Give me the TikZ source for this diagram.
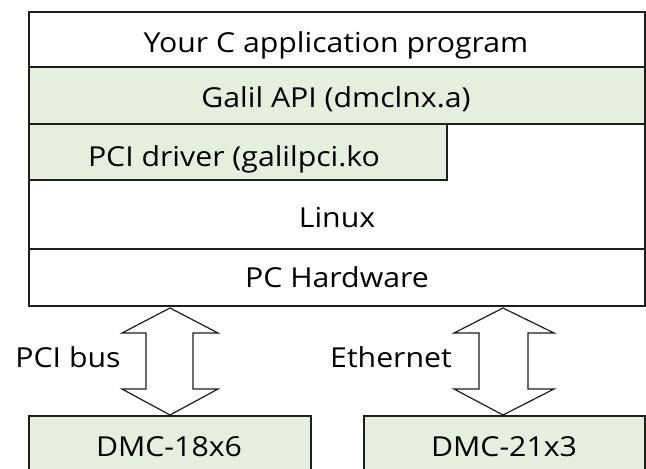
\documentclass[tikz,border=0pt]{standalone}
\usepackage{fontspec}
\setmainfont[FakeStretch=1.1]{Open Sans}
\definecolor{lgreen}{HTML}{E6EEDD}
\definecolor{edge}{HTML}{1E1E1E}
\begin{document}
\begin{tikzpicture}[x=1pt,y=-1pt,
  layer/.style={draw=edge,line width=1.6pt},
  lbl/.style={font=\fontsize{27.5}{30}\selectfont,inner sep=0pt,anchor=base},
  darrow/.style={draw=edge,line width=1.2pt,fill=white,line join=miter}]
\useasboundingbox (0,0) rectangle (646,469);
% rows
\draw[layer,fill=lgreen] (29,67) rectangle (645,124);
\draw[layer,fill=lgreen] (29,124) rectangle (447,180);
\draw[layer] (29,249) -- (645,249);
\draw[layer] (29,12) rectangle (645,306);
\node[lbl] (app) at (336,52) {Your C application program};
\node[lbl] (api) at (336,107) {Galil API (dmclnx.a)};
\node[lbl] (drv) at (234,166) {PCI driver (galilpci.ko};
\node[lbl] (linux) at (337,227) {Linux};
\node[lbl] (hw) at (337,287) {PC Hardware};
% bottom boxes
\draw[layer,fill=lgreen] (29,416) rectangle (311,480);
\draw[layer,fill=lgreen] (364,416) rectangle (645,480);
\node[lbl] (dmc1) at (169,456) {DMC-18x6};
\node[lbl] (dmc2) at (504,456) {DMC-21x3};
% double arrows
\coordinate (a1t) at (170,308);
\coordinate (a1b) at (170,415);
\coordinate (a2t) at (503,308);
\coordinate (a2b) at (503,415);
\draw[darrow] (a1t) -- ++(48,25) -- ++(-25,0) -- ++(0,56) -- ++(25,0) -- (a1b)
  -- ++(-48,-26) -- ++(24,0) -- ++(0,-56) -- ++(-24,0) -- cycle;
\draw[darrow] (a2t) -- ++(51,25) -- ++(-26,0) -- ++(0,56) -- ++(26,0) -- (a2b)
  -- ++(-49,-26) -- ++(25,0) -- ++(0,-56) -- ++(-25,0) -- cycle;
\node[lbl] (pci) at (68,367) {PCI bus};
\node[lbl] (eth) at (391,367) {Ethernet};
\end{tikzpicture}
\end{document}
